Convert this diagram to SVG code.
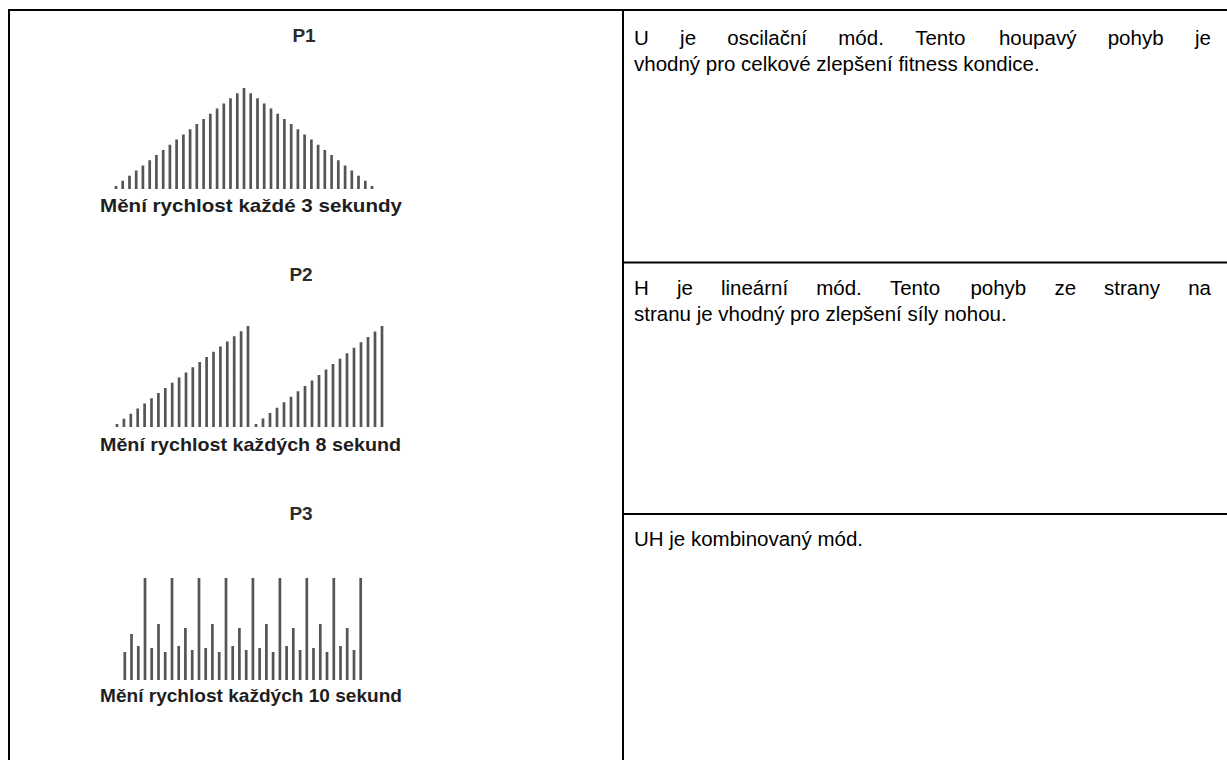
<svg xmlns="http://www.w3.org/2000/svg" width="1227" height="760" viewBox="0 0 1227 760">
<style>
.grid{stroke:#000;stroke-width:2;fill:none}
.lbl{font-family:"Liberation Sans",Arial,sans-serif;font-weight:bold;font-size:19px;fill:#2b2b2b;text-anchor:middle}
.cap{font-family:"Liberation Sans",Arial,sans-serif;font-weight:bold;font-size:18.5px;fill:#1e1e1e}
.txt{font-family:"Liberation Sans",Arial,sans-serif;font-size:20.5px;fill:#000}
.end{text-anchor:end}
.bars{stroke:#555;stroke-width:2.7;fill:none}
</style>
<rect width="1227" height="760" fill="#fff"/>
<g id="connectors">
<path class="grid" d="M8 10H1227M9 9V760M623 9V760M623 262.5H1227M623 514H1227"/>
</g>
<g id="p1">
<text class="lbl" x="304" y="42">P1</text>
<path class="bars" d="M116 189v-3M122.7 189v-8.2M129.5 189v-13.3M136.2 189v-18.5M142.9 189v-23.6M149.7 189v-28.8M156.4 189v-33.9M163.2 189v-39.1M169.9 189v-44.3M176.6 189v-49.4M183.4 189v-54.6M190.1 189v-59.7M196.8 189v-64.9M203.6 189v-70.1M210.3 189v-75.2M217.1 189v-80.4M223.8 189v-85.5M230.5 189v-90.7M237.3 189v-95.8M244 189v-101M250.7 189v-95.8M257.5 189v-90.7M264.2 189v-85.5M271 189v-80.4M277.7 189v-75.2M284.4 189v-70.1M291.2 189v-64.9M297.9 189v-59.7M304.6 189v-54.6M311.4 189v-49.4M318.1 189v-44.3M324.8 189v-39.1M331.6 189v-33.9M338.3 189v-28.8M345.1 189v-23.6M351.8 189v-18.5M358.5 189v-13.3M365.3 189v-8.2M372 189v-3"/>
<text class="cap" x="100" y="212" textLength="302" lengthAdjust="spacingAndGlyphs">Mění rychlost každé 3 sekundy</text>
</g>
<g id="p2">
<text class="lbl" x="301" y="281">P2</text>
<path class="bars" d="M117 427v-3M123.9 427v-8.2M130.8 427v-13.3M137.7 427v-18.5M144.6 427v-23.6M151.5 427v-28.8M158.4 427v-33.9M165.3 427v-39.1M172.2 427v-44.3M179.1 427v-49.4M186 427v-54.6M192.8 427v-59.7M199.7 427v-64.9M206.6 427v-70.1M213.5 427v-75.2M220.4 427v-80.4M227.3 427v-85.5M234.2 427v-90.7M241.1 427v-95.8M248 427v-101M256 427v-3M263 427v-8.4M270 427v-13.9M277 427v-19.3M284 427v-24.8M291 427v-30.2M298 427v-35.7M305 427v-41.1M312 427v-46.6M319 427v-52M326 427v-57.4M333 427v-62.9M340 427v-68.3M347 427v-73.8M354 427v-79.2M361 427v-84.7M368 427v-90.1M375 427v-95.6M382 427v-101"/>
<text class="cap" x="100" y="451" textLength="301" lengthAdjust="spacingAndGlyphs">Mění rychlost každých 8 sekund</text>
</g>
<g id="p3">
<text class="lbl" x="301" y="520">P3</text>
<path class="bars" d="M124.8 680v-28M131.5 680v-46M138.3 680v-34M145 680v-102M151.7 680v-32M158.5 680v-56M165.2 680v-28M172 680v-102M178.7 680v-34M185.4 680v-52M192.2 680v-30M199 680v-102M205.7 680v-32M212.4 680v-56M219.2 680v-28M226 680v-102M232.7 680v-34M239.4 680v-52M246.2 680v-30M252.9 680v-102M259.6 680v-32M266.4 680v-56M273.1 680v-28M279.9 680v-102M286.6 680v-34M293.3 680v-52M300.1 680v-30M306.8 680v-102M313.5 680v-32M320.3 680v-56M327 680v-28M333.8 680v-102M340.5 680v-34M347.2 680v-52M354 680v-30M360.7 680v-102"/>
<text class="cap" x="100" y="702" textLength="302" lengthAdjust="spacingAndGlyphs">Mění rychlost každých 10 sekund</text>
</g>
<g id="mode-u">
<text class="txt" y="45"><tspan x="634">U</tspan><tspan x="680.1">je</tspan><tspan x="727.3">oscilační</tspan><tspan x="838.3">mód.</tspan><tspan x="915.2">Tento</tspan><tspan x="998.9">houpavý</tspan><tspan x="1107.7">pohyb</tspan></text>
<text class="txt end" x="1211" y="45">je</text>
<text class="txt" x="634" y="71">vhodný pro celkové zlepšení fitness kondice.</text>
</g>
<g id="mode-h">
<text class="txt" y="295"><tspan x="634">H</tspan><tspan x="676.9">je</tspan><tspan x="720.9">lineární</tspan><tspan x="816.2">mód.</tspan><tspan x="889.9">Tento</tspan><tspan x="970.4">pohyb</tspan><tspan x="1054.4">ze</tspan><tspan x="1104.1">strany</tspan></text>
<text class="txt end" x="1211" y="295">na</text>
<text class="txt" x="634" y="321">stranu je vhodný pro zlepšení síly nohou.</text>
</g>
<g id="mode-uh">
<text class="txt" x="634" y="546">UH je kombinovaný mód.</text>
</g>
</svg>
